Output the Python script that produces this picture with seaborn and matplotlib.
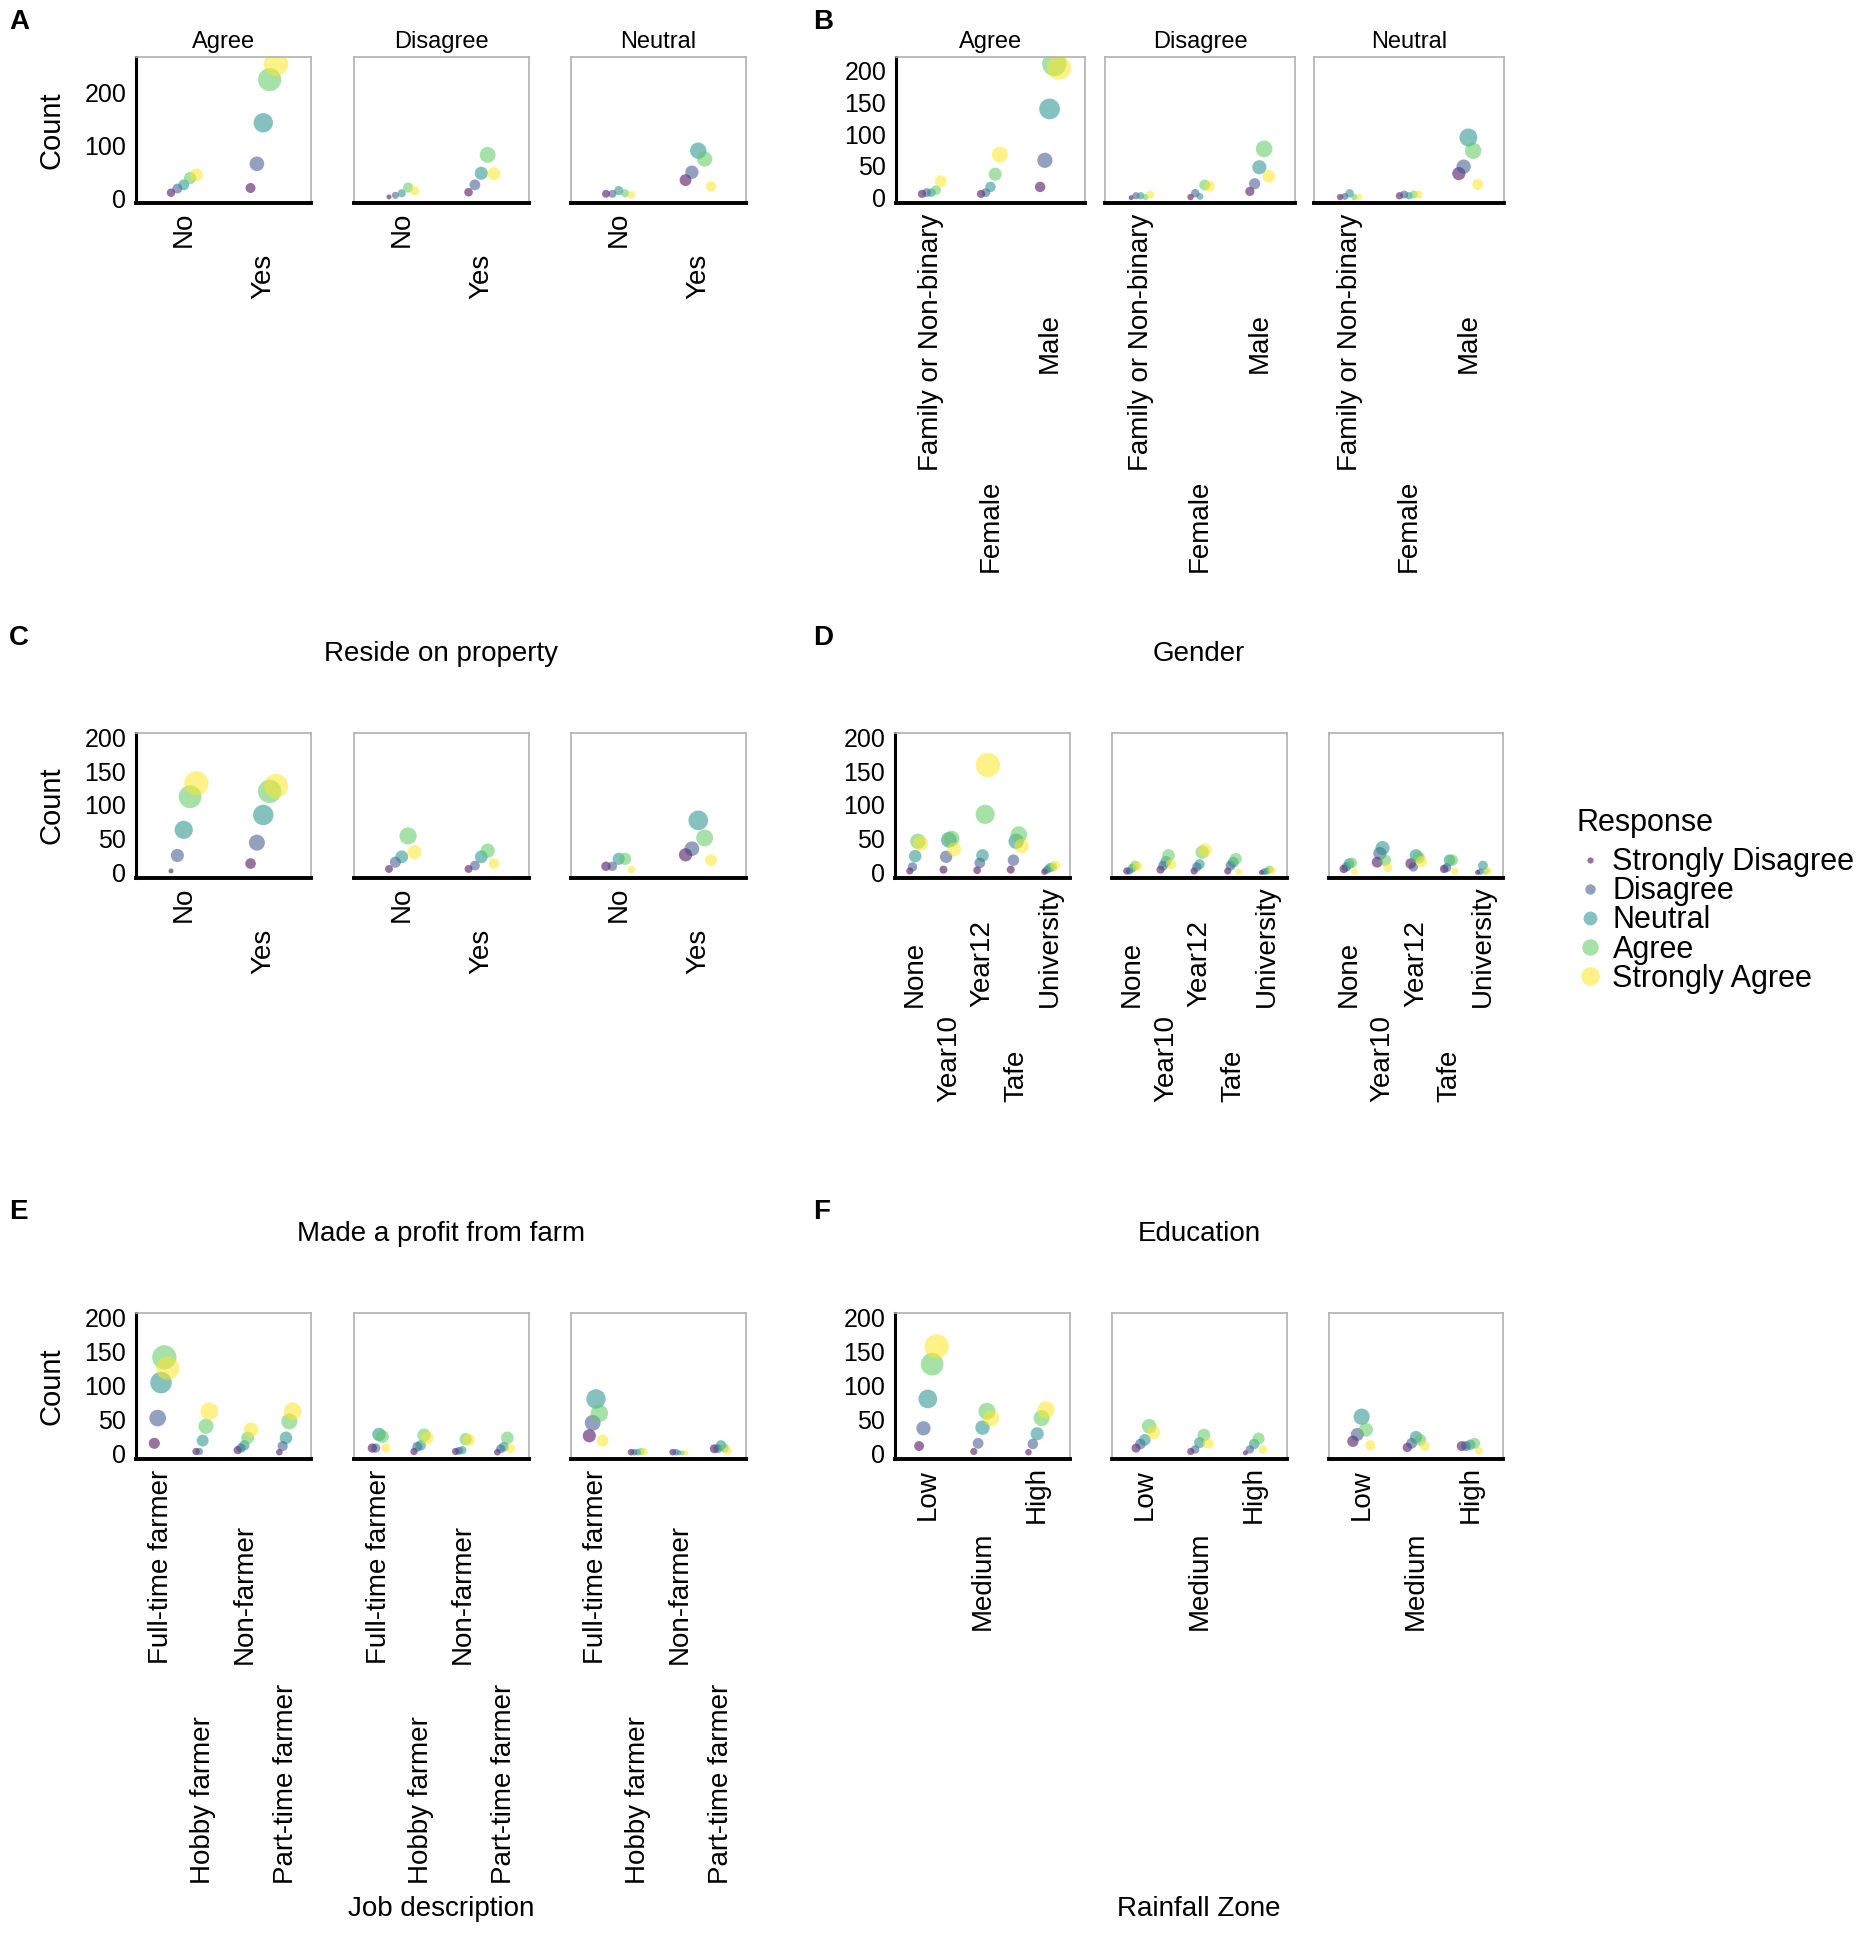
import numpy as np
import pandas as pd
import seaborn as sns
import matplotlib
matplotlib.use('Agg')
import matplotlib.pyplot as plt
from matplotlib.lines import Line2D
from matplotlib import transforms

responses = ['Strongly Disagree', 'Disagree', 'Neutral', 'Agree', 'Strongly Agree']
facets = ['Agree', 'Disagree', 'Neutral']
palette = ['#440154', '#3b528b', '#21918c', '#5ec962', '#fde725']

# A - Reside on property (rows = category, cols = response SD..SA)
reside_cats = ['No', 'Yes']
reside_agree = [[10, 18, 25, 38, 44], [19, 65, 143, 225, 255]]
reside_disagree = [[2, 5, 9, 20, 14], [11, 25, 47, 82, 46]]
reside_neutral = [[8, 8, 14, 9, 6], [34, 49, 90, 74, 22]]

# B - Gender
gender_cats = ['Family or Non-binary', 'Female', 'Male']
gender_agree = [[6, 8, 8, 12, 26], [6, 8, 17, 37, 68], [17, 59, 140, 211, 205]]
gender_disagree = [[0, 3, 3, 1, 5], [1, 7, 2, 20, 18], [10, 22, 48, 77, 34]]
gender_neutral = [[1, 2, 7, 1, 1], [3, 5, 3, 5, 5], [38, 49, 95, 74, 21]]

# C - Made a profit from farm
profit_cats = ['No', 'Yes']
profit_agree = [[2, 25, 63, 112, 132], [13, 44, 85, 120, 128]]
profit_disagree = [[5, 15, 23, 54, 30], [5, 10, 23, 32, 13]]
profit_neutral = [[9, 9, 20, 20, 4], [26, 35, 77, 51, 18]]

# D - Education
edu_cats = ['None', 'Year10', 'Year12', 'Tafe', 'University']
edu_agree = [[2, 8, 24, 46, 43], [4, 23, 48, 50, 34], [3, 14, 25, 86, 159],
             [4, 18, 46, 56, 39], [1, 4, 7, 8, 10]]
edu_disagree = [[2, 2, 6, 10, 9], [4, 10, 16, 25, 12], [2, 8, 12, 30, 33],
                [2, 10, 15, 20, 1], [0, 1, 2, 4, 3]]
edu_neutral = [[5, 8, 13, 14, 1], [15, 28, 36, 18, 7], [13, 8, 25, 22, 16],
               [5, 7, 18, 18, 2], [0, 1, 10, 2, 2]]

# E - Job description
job_cats = ['Full-time farmer', 'Hobby farmer', 'Non-farmer', 'Part-time farmer']
job_agree = [[15, 52, 104, 141, 125], [3, 3, 19, 40, 62], [5, 8, 12, 23, 35], [2, 11, 23, 47, 62]]
job_disagree = [[8, 8, 28, 25, 8], [3, 10, 12, 27, 23], [3, 4, 5, 21, 20], [2, 7, 10, 23, 7]]
job_neutral = [[26, 45, 80, 59, 19], [2, 2, 2, 3, 3], [2, 2, 1, 1, 1], [7, 7, 12, 8, 4]]

# F - Rainfall zone
rain_cats = ['Low', 'Medium', 'High']
rain_agree = [[11, 37, 80, 131, 157], [3, 15, 38, 62, 52], [2, 14, 29, 52, 64]]
rain_disagree = [[8, 14, 20, 40, 31], [3, 6, 16, 27, 15], [1, 6, 14, 22, 6]]
rain_neutral = [[18, 28, 54, 35, 12], [9, 15, 24, 20, 11], [11, 11, 13, 15, 4]]

W, H = 1874, 1944
left_col = [(136, 311), (354, 529), (571, 746)]
right_col = [(895, 1070), (1112, 1287), (1329, 1503)]
right_col_b = [(896, 1085), (1105, 1295), (1314, 1504)]


def to_frame(cats, blocks):
    rows = []
    for facet, block in zip(facets, blocks):
        for ci, cat in enumerate(cats):
            for ri, resp in enumerate(responses):
                rows.append({'Facet': facet, 'Category': cat, 'cat_i': ci,
                             'Response': resp, 'resp_i': ri, 'Count': block[ci][ri]})
    df = pd.DataFrame(rows)
    # dodge the five responses around each category
    df['x'] = df['cat_i'] + (df['resp_i'] - 2) * 0.08
    return df


def size_map(values, dmin=3.6, dmax=17.5):
    # ggplot-like area scale: diameter grows with sqrt of rescaled count
    vmin, vmax = min(values), max(values)
    return {v: (dmin + (dmax - dmin) * np.sqrt((v - vmin) / (vmax - vmin))) ** 2
            for v in set(values)}


def draw_panel(fig, cats, blocks, cols, top, bottom, ylim, yticks, align, gap=8, pad=11):
    df = to_frame(cats, blocks)
    n = len(cats)
    sizes = size_map(df['Count'].tolist())
    axes, labels = [], []
    for k, (facet, (x0, x1)) in enumerate(zip(facets, cols)):
        ax = fig.add_axes([x0 / W, 1 - bottom / H, (x1 - x0) / W, (bottom - top) / H])
        sub = df[df['Facet'] == facet]
        sns.scatterplot(data=sub, x='x', y='Count', hue='Response', hue_order=responses,
                        palette=palette, size='Count', sizes=sizes,
                        alpha=0.55, linewidth=0, legend=False, ax=ax)
        ax.set_xlim(-0.6, n - 0.4)
        ax.set_ylim(*ylim)
        ax.set_xlabel('')
        ax.set_ylabel('')
        ax.set_xticks(range(n))
        ax.tick_params(axis='x', length=5, width=1.5, color='black', labelbottom=False)
        ax.set_yticks(yticks)
        for sp in ax.spines.values():
            sp.set_color('#b0b0b0')
            sp.set_linewidth(1.2)
        ax.spines['bottom'].set_color('black')
        ax.spines['bottom'].set_linewidth(2.8)
        if k == 0:
            ax.spines['left'].set_color('black')
            ax.spines['left'].set_linewidth(2.2)
            ax.tick_params(axis='y', length=5, width=1.5, color='black', labelsize=18, pad=2)
        else:
            ax.tick_params(axis='y', left=False, labelleft=False)
        trans = transforms.blended_transform_factory(ax.transData, ax.transAxes)
        texts = [ax.text(i, 0, c, transform=trans, rotation=90, ha='center', va='top',
                         fontsize=20) for i, c in enumerate(cats)]
        axes.append(ax)
        labels.append(texts)
    return axes, labels, align, gap, pad


def place_labels(ax, texts, align, pad=11, gap=8):
    # two staggered rows of rotated labels, like a dodged ggplot axis
    ax_h = ax.get_window_extent().height
    top = pad
    for row in (texts[0::2], texts[1::2]):
        if not row:
            continue
        L = max(t.get_window_extent().height for t in row)
        for t in row:
            if align == 'bottom':
                t.set_va('bottom')
                y = top + L
            else:
                t.set_va('center')
                y = top + L / 2
            t.set_y(-y / ax_h)
        top += L + gap


sns.set_style('white')
plt.rcParams['font.family'] = ['Liberation Sans', 'DejaVu Sans']
plt.rcParams['text.color'] = 'black'
plt.rcParams['xtick.color'] = 'black'
plt.rcParams['ytick.color'] = 'black'

fig = plt.figure(figsize=(W / 100, H / 100), dpi=100)

panels = [
    draw_panel(fig, reside_cats, [reside_agree, reside_disagree, reside_neutral],
               left_col, 57, 203, (-9.5, 268), [0, 100, 200], 'center', 6, 9),
    draw_panel(fig, gender_cats, [gender_agree, gender_disagree, gender_neutral],
               right_col_b, 57, 203, (-8.4, 222), [0, 50, 100, 150, 200], 'center'),
    draw_panel(fig, profit_cats, [profit_agree, profit_disagree, profit_neutral],
               left_col, 733, 878, (-8.4, 206.5), [0, 50, 100, 150, 200], 'center', 6, 9),
    draw_panel(fig, edu_cats, [edu_agree, edu_disagree, edu_neutral],
               right_col, 733, 878, (-8.4, 206.5), [0, 50, 100, 150, 200], 'bottom', 8, 7),
    draw_panel(fig, job_cats, [job_agree, job_disagree, job_neutral],
               left_col, 1313, 1459, (-8, 206), [0, 50, 100, 150, 200], 'bottom', 19),
    draw_panel(fig, rain_cats, [rain_agree, rain_disagree, rain_neutral],
               right_col, 1313, 1459, (-8, 206), [0, 50, 100, 150, 200], 'center', 8, 7),
]

fig.canvas.draw()
for axes, labels, align, gap, pad in panels:
    for ax, texts in zip(axes, labels):
        place_labels(ax, texts, align, pad=pad, gap=gap)

# facet strips for the top row
for cols in (left_col, right_col_b):
    for facet, (x0, x1) in zip(facets, cols):
        fig.text((x0 + x1) / 2 / W, 1 - 42 / H, facet, ha='center', va='center', fontsize=17)

# Count labels
for top, bottom in ((57, 203), (733, 878), (1313, 1459)):
    fig.text(52 / W, 1 - (top + bottom) / 2 / H, 'Count', rotation=90,
             ha='center', va='center', fontsize=21)

# variable titles
titles = [('Reside on property', 441, 654), ('Gender', 1199, 654),
          ('Made a profit from farm', 441, 1234), ('Education', 1199, 1234),
          ('Job description', 441, 1909), ('Rainfall Zone', 1199, 1909)]
for txt, x, y in titles:
    fig.text(x / W, 1 - y / H, txt, ha='center', va='center', fontsize=20)

# panel letters
for letter, x, y in [('A', 9, 9), ('B', 813, 9), ('C', 9, 625),
                     ('D', 813, 625), ('E', 9, 1199), ('F', 813, 1199)]:
    fig.text(x / W, 1 - y / H, letter, ha='left', va='top', fontsize=20, fontweight='bold')

# legend
fig.text(1577 / W, 1 - 823 / H, 'Response', ha='left', va='center', fontsize=22)
msizes = [4.5, 7.5, 10, 11.8, 13.5]
handles = [Line2D([], [], linestyle='none', marker='o', markersize=m, color=c,
                  alpha=0.55, markeredgewidth=0) for m, c in zip(msizes, palette)]
fig.legend(handles, responses, loc='upper left',
           bbox_to_anchor=(1559 / W, 1 - 832 / H), frameon=False, fontsize=22,
           labelspacing=-0.03, handletextpad=0.25, handlelength=1.0, borderpad=0)

fig.savefig('out.png', dpi=100, facecolor='white')
